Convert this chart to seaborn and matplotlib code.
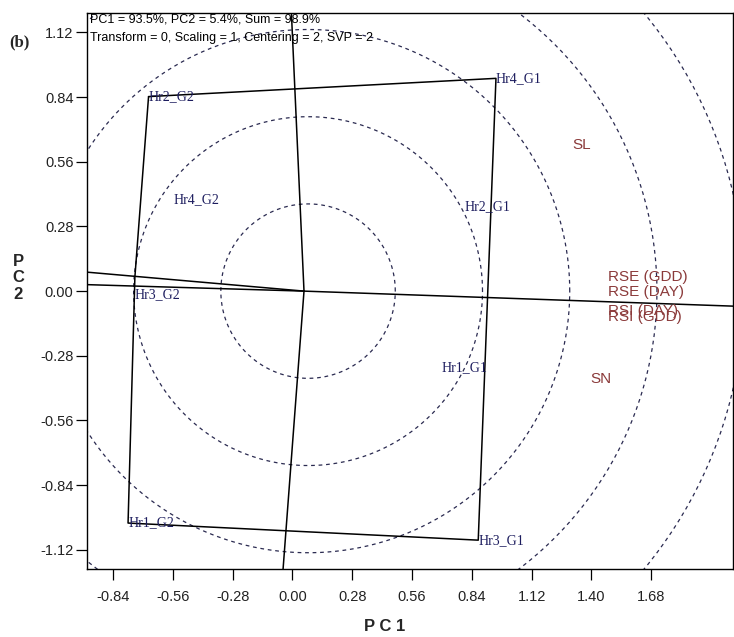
import numpy as np
import pandas as pd
import matplotlib
matplotlib.use("Agg")
import matplotlib.pyplot as plt
import seaborn as sns

# genotype labels (PC1, PC2)
genotypes = ["Hr2_G2", "Hr4_G1", "Hr3_G1", "Hr1_G2", "Hr3_G2", "Hr2_G1", "Hr1_G1", "Hr4_G2"]
geno_pc1 = [-0.674, 0.953, 0.870, -0.770, -0.738, 0.808, 0.699, -0.555]
geno_pc2 = [0.842, 0.921, -1.078, -1.004, 0.061, 0.365, -0.333, 0.394]

# environment labels (PC1, PC2)
environments = ["SL", "RSE (GDD)", "RSE (DAY)", "RSI (DAY)", "RSI (GDD)", "SN"]
env_pc1 = [1.309, 1.479, 1.479, 1.479, 1.479, 1.397]
env_pc2 = [0.632, 0.059, -0.003, -0.085, -0.114, -0.382]

# polygon of the which-won-where view
hull = ["Hr2_G2", "Hr4_G1", "Hr3_G1", "Hr1_G2", "Hr3_G2", "Hr2_G2"]

# rays from biplot origin to the frame
origin = (0.054, 0.0)
ray_pc1 = [-0.005, -0.044, -0.961, -0.961, 2.063]
ray_pc2 = [1.205, -1.203, 0.082, 0.028, -0.065]

# concentric circles (radius in PC1 and PC2 units)
circle_center = (0.073, 0.0)
circle_r1 = [0.4085, 0.817, 1.2255, 1.634, 2.0425]
circle_r2 = [0.3775, 0.755, 1.1325, 1.510, 1.8875]

ticks = [-0.84, -0.56, -0.28, 0.00, 0.28, 0.56, 0.84, 1.12, 1.40, 1.68]
yticks = [-1.12, -0.84, -0.56, -0.28, 0.00, 0.28, 0.56, 0.84, 1.12]

sns.set_theme(style="white")
plt.rcParams["font.family"] = ["Liberation Sans", "DejaVu Sans"]

fig = plt.figure(figsize=(7.34, 6.37), dpi=100)
ax = fig.add_axes([0.1189, 0.1067, 0.8797, 0.8733])

geno = pd.DataFrame({"name": genotypes, "pc1": geno_pc1, "pc2": geno_pc2}).set_index("name")
env = pd.DataFrame({"name": environments, "pc1": env_pc1, "pc2": env_pc2})

# circles
t = np.linspace(0, 2 * np.pi, 400)
for rx, ry in zip(circle_r1, circle_r2):
    ax.plot(circle_center[0] + rx * np.cos(t), circle_center[1] + ry * np.sin(t),
            ls=(0, (3, 3)), lw=0.9, color="#2a2a50", zorder=1)

# polygon
poly = geno.loc[hull].reset_index()
sns.lineplot(data=poly, x="pc1", y="pc2", sort=False, estimator=None,
             color="black", lw=1.1, ax=ax, zorder=2)

# rays
for x1, y1 in zip(ray_pc1, ray_pc2):
    ax.plot([origin[0], x1], [origin[1], y1], color="black", lw=1.1, zorder=2)

# labels
for name, row in geno.iterrows():
    dy = -13 if name == "Hr3_G2" else 0
    ax.annotate(name, (row.pc1, row.pc2), xytext=(0, dy), textcoords="offset points",
                ha="left", va="center", fontsize=10, color="#1c1c5e",
                family="Liberation Serif", zorder=3)
for _, row in env.iterrows():
    ax.text(row.pc1, row.pc2, row["name"], ha="left", va="center",
            fontsize=11, color="#8b3a3a", zorder=3)

ax.text(0.004, 0.998, "PC1 = 93.5%, PC2 = 5.4%, Sum = 98.9%", transform=ax.transAxes,
        ha="left", va="top", fontsize=9, color="black")
ax.text(0.004, 0.966, "Transform = 0, Scaling = 1, Centering = 2, SVP = 2", transform=ax.transAxes,
        ha="left", va="top", fontsize=9, color="black")

ax.set_xlim(-0.961, 2.063)
ax.set_ylim(-1.203, 1.205)
ax.set_xticks(ticks)
ax.set_yticks(yticks)
ax.set_xticklabels([f"{v:.2f}" for v in ticks])
ax.set_yticklabels([f"{v:.2f}" for v in yticks])
ax.tick_params(direction="out", length=8, width=0.9, color="black", labelsize=10.5,
               labelcolor="#222222", pad=2, bottom=True, left=True)
ax.tick_params(axis="x", pad=7)
ax.set_xlabel("")
ax.set_ylabel("")
for s in ax.spines.values():
    s.set_color("black")
    s.set_linewidth(1.0)

fig.text(0.5245, 0.016, "P C 1", ha="center", va="center", fontsize=12, fontweight="bold")
fig.text(0.025, 1 - 278 / 637, "P\nC\n2", ha="center", va="center", fontsize=12,
         fontweight="bold", linespacing=1.15)
fig.text(0.027, 1 - 42 / 637, "(b)", ha="center", va="center", fontsize=12,
         fontweight="bold", family="Liberation Serif")

fig.savefig("out.png", dpi=100)
